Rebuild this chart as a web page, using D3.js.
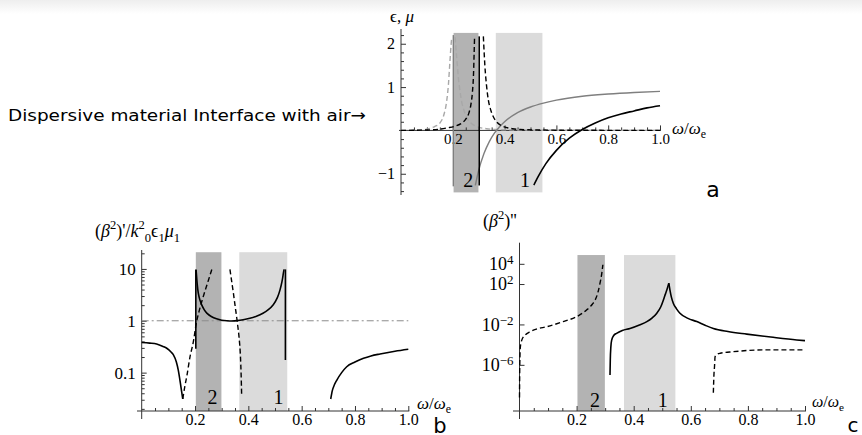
<!DOCTYPE html>
<html>
<head>
<meta charset="utf-8">
<script src="https://cdn.jsdelivr.net/npm/d3@7"></script>
<style>
  body { margin: 0; background: #fff; }
  svg { display: block; }
</style>
</head>
<body>
<script>
// ---- values ----
const omegaTicks = [0.2, 0.4, 0.6, 0.8, 1.0];
const omegaMinor = [0.05, 0.1, 0.15, 0.25, 0.3, 0.35, 0.45, 0.5, 0.55, 0.65, 0.7, 0.75, 0.85, 0.9, 0.95];
const bandDark = [0.203, 0.299];
const bandLight = [0.366, 0.546];
const bandNames = ['2', '1'];

// panel a: eps, mu (linear)
const aTicks = [-1, 1, 2];
const aMinor = [-1.4, -1.2, -0.8, -0.6, -0.4, -0.2, 0.2, 0.4, 0.6, 0.8, 1.2, 1.4, 1.6, 1.8, 2.2];
const aBlackSolid = [[0.513, -1.26], [0.53, -1.06], [0.56, -0.76], [0.6, -0.46], [0.65, -0.18], [0.7, 0.02],
  [0.75, 0.17], [0.8, 0.29], [0.85, 0.38], [0.9, 0.45], [0.95, 0.52], [1.0, 0.57]];
const aBlackPole = [[0.302, -1.27], [0.302, 2.17]];
const aGraySolid = [[0.287, -1.27], [0.3, -0.92], [0.32, -0.54], [0.34, -0.27], [0.36, -0.07], [0.38, 0.08],
  [0.4, 0.2], [0.45, 0.41], [0.5, 0.54], [0.55, 0.63], [0.6, 0.7], [0.7, 0.79], [0.8, 0.84], [0.9, 0.875], [1.0, 0.9]];
const aGrayPole = [[0.202, -1.29], [0.202, 2.2]];
const aGrayDashL = [[0, 0], [0.05, 0.003], [0.1, 0.03], [0.13, 0.09], [0.15, 0.17], [0.165, 0.35], [0.176, 0.66],
  [0.183, 1.05], [0.189, 1.6], [0.193, 1.95], [0.196, 2.15]];
const aGrayDashR = [[0.209, 2.15], [0.212, 1.9], [0.217, 1.55], [0.221, 1.25], [0.228, 0.9], [0.234, 0.67],
  [0.244, 0.45], [0.254, 0.3], [0.27, 0.17], [0.292, 0.09], [0.33, 0.04], [0.37, 0.02], [0.5, 0.006], [0.7, 0.002], [1.0, 0.001]];
const aBlackDashL = [[0, 0], [0.1, 0.01], [0.15, 0.03], [0.18, 0.06], [0.21, 0.1], [0.23, 0.15], [0.25, 0.26],
  [0.262, 0.4], [0.27, 0.6], [0.276, 0.9], [0.28, 1.3], [0.282, 1.7], [0.284, 2.15]];
const aBlackDashR = [[0.318, 2.17], [0.321, 1.8], [0.324, 1.48], [0.33, 1.05], [0.337, 0.71], [0.346, 0.48],
  [0.356, 0.32], [0.37, 0.19], [0.395, 0.09], [0.43, 0.04], [0.46, 0.02], [0.55, 0.008], [0.7, 0.003], [1.0, 0.001]];

// panel b: (beta^2)'/k0^2 eps1 mu1 (log)
const bTicks = [0.1, 1, 10];
const bMinor = [0.02, 0.03, 0.04, 0.05, 0.06, 0.07, 0.08, 0.09, 0.2, 0.3, 0.4, 0.5, 0.6, 0.7, 0.8, 0.9, 2, 3, 4, 5, 6, 7, 8, 9, 20];
const bSolidL = [[0, 0.38], [0.03, 0.37], [0.056, 0.356], [0.08, 0.32], [0.094, 0.295], [0.11, 0.25], [0.119, 0.22],
  [0.13, 0.16], [0.137, 0.113], [0.147, 0.054], [0.154, 0.031]];
const bSolidPoleL = [[0.203, 9.8], [0.203, 0.29]];
const bSolidMid = [[0.204, 9.6], [0.208, 5], [0.212, 3.36], [0.218, 2.5], [0.225, 2.0], [0.235, 1.6], [0.244, 1.39],
  [0.26, 1.2], [0.281, 1.08], [0.3, 1.02], [0.319, 1.0], [0.34, 0.99], [0.356, 1.0], [0.38, 1.04], [0.406, 1.11],
  [0.43, 1.22], [0.456, 1.39], [0.475, 1.62], [0.494, 2.0], [0.51, 2.8], [0.519, 3.9], [0.527, 5.8], [0.531, 8.1], [0.534, 9.8]];
const bSolidPoleR = [[0.539, 9.8], [0.539, 0.175]];
const bSolidR = [[0.709, 0.031], [0.715, 0.045], [0.722, 0.057], [0.732, 0.072], [0.75, 0.1], [0.769, 0.13],
  [0.8, 0.16], [0.832, 0.189], [0.86, 0.21], [0.894, 0.229], [0.95, 0.258], [1.0, 0.282]];
const bDashL = [[0.154, 0.031], [0.162, 0.055], [0.169, 0.084], [0.181, 0.2], [0.194, 0.4], [0.204, 0.85],
  [0.219, 1.8], [0.237, 3.7], [0.25, 6], [0.263, 9.8]];
const bDashR = [[0.331, 9.8], [0.337, 6], [0.344, 3.4], [0.35, 2.0], [0.356, 1.19], [0.361, 0.75], [0.365, 0.49],
  [0.371, 0.175], [0.373, 0.09], [0.375, 0.035]];
const bUnity = [[0, 1], [1, 1]];

// panel c: (beta^2)'' (log)
const cTicks = [1e-6, 1e-2, 1e2, 1e4];
const cDashL = [[0, 6e-10], [0.001, 1e-6], [0.003, 6e-5], [0.008, 2.8e-4], [0.02, 9e-4], [0.037, 1.9e-3],
  [0.06, 3.5e-3], [0.095, 5.9e-3], [0.153, 0.019], [0.2, 0.058], [0.235, 0.27], [0.255, 1], [0.265, 2.6],
  [0.275, 16], [0.282, 120], [0.288, 1000], [0.292, 8000]];
const cSolidUp = [[0.317, 1e-7], [0.318, 3e-6], [0.32, 6e-5], [0.323, 2.9e-4], [0.33, 8e-4], [0.34, 1.3e-3],
  [0.36, 2.5e-3], [0.387, 4e-3], [0.42, 9e-3], [0.446, 0.019], [0.465, 0.045], [0.481, 0.13], [0.495, 0.56],
  [0.504, 2.6], [0.511, 10], [0.516, 25], [0.523, 120]];
const cSolidDown = [[0.523, 120], [0.527, 25], [0.532, 5], [0.539, 1.2], [0.55, 0.35], [0.562, 0.13], [0.59, 0.04],
  [0.621, 0.019], [0.65, 8.3e-3], [0.679, 4e-3], [0.73, 2e-3], [0.796, 1.1e-3], [0.88, 5.6e-4], [0.971, 2.9e-4], [1.0, 2.5e-4]];
const cDashR = [[0.679, 1.7e-9], [0.681, 1e-7], [0.683, 6.5e-7], [0.685, 6.3e-6], [0.69, 1e-5], [0.703, 1.4e-5],
  [0.749, 2e-5], [0.854, 3e-5], [0.971, 3e-5], [1.0, 3e-5]];

// ---- drawing ----
const W = 862, H = 435;
const serif = '"Liberation Serif", "DejaVu Serif", serif';
const sans = '"DejaVu Sans", "Open Sans", sans-serif';
const axisColor = '#333';

const st = {
  solid: {stroke: '#000', w: 1.6},
  dashed: {stroke: '#000', w: 1.4, dash: '5,3'},
  gray: {stroke: '#7f7f7f', w: 1.4},
  grayDash: {stroke: '#a8a8a8', w: 1.4, dash: '5,3'},
  dashDot: {stroke: '#8c8c8c', w: 1, dash: '7,3,2,3'}
};

const svg = d3.select('body').append('svg').attr('width', W).attr('height', H);

// faint band along the top of the page
const defs = svg.append('defs');
const grad = defs.append('linearGradient').attr('id', 'topfade').attr('x1', 0).attr('x2', 0).attr('y1', 0).attr('y2', 1);
grad.append('stop').attr('offset', '0').attr('stop-color', '#eeeeee');
grad.append('stop').attr('offset', '1').attr('stop-color', '#ffffff');
svg.append('rect').attr('width', W).attr('height', 14).attr('fill', 'url(#topfade)');

function addLine(g, data, x, y, s, curve) {
  g.append('path')
    .datum(data)
    .attr('d', d3.line().x(d => x(d[0])).y(d => y(d[1])).curve(curve || d3.curveMonotoneX))
    .attr('fill', 'none')
    .attr('stroke', s.stroke)
    .attr('stroke-width', s.w)
    .attr('stroke-dasharray', s.dash || null);
}

// text made of pieces: [string, kind] with kind n | i | sup | sub
function richText(g, x, y, parts, size, anchor) {
  const t = g.append('text').attr('x', x).attr('y', y)
    .attr('font-family', serif).attr('font-size', size).attr('fill', '#000')
    .attr('text-anchor', anchor || 'start');
  let shift = 0;
  parts.forEach(([s, kind]) => {
    let target = 0;
    if (kind === 'sup') target = -0.42 * size;
    if (kind === 'sub') target = 0.25 * size;
    const sp = t.append('tspan').text(s).attr('dy', target - shift);
    shift = target;
    if (kind === 'i') sp.attr('font-style', 'italic');
    if (kind === 'sup' || kind === 'sub') sp.attr('font-size', size * 0.7);
  });
  return t;
}

function bands(g, x, yTop, yBot) {
  [bandDark, bandLight].forEach((b, i) => {
    g.append('rect')
      .attr('x', x(b[0])).attr('width', x(b[1]) - x(b[0]))
      .attr('y', yTop).attr('height', yBot - yTop)
      .attr('fill', i === 0 ? '#b3b3b3' : '#dbdbdb');
  });
}

function bandNumbers(g, x, xs, yc) {
  xs.forEach((v, i) => {
    g.append('text').attr('x', x(v)).attr('y', yc).attr('dy', '0.35em')
      .attr('text-anchor', 'middle').attr('font-family', serif).attr('font-size', 20)
      .text(bandNames[i]);
  });
}

function styleAxis(ax, size) {
  ax.select('.domain').remove();
  ax.attr('font-family', serif).attr('font-size', size);
  ax.selectAll('line').attr('stroke', axisColor);
  ax.selectAll('text').attr('fill', '#000');
}

function xAxis(g, x, yPos, x0, size) {
  const minor = g.append('g').attr('transform', `translate(0,${yPos})`)
    .call(d3.axisBottom(x).tickValues(omegaMinor).tickFormat('').tickSizeInner(-3).tickSizeOuter(0));
  styleAxis(minor, size);
  const major = g.append('g').attr('transform', `translate(0,${yPos})`)
    .call(d3.axisBottom(x).tickValues(omegaTicks).tickFormat(d3.format('.1f')).tickSizeInner(-5).tickSizeOuter(0).tickPadding(3));
  styleAxis(major, size);
  g.append('line').attr('x1', x0).attr('x2', x(1) + 1).attr('y1', yPos).attr('y2', yPos)
    .attr('stroke', axisColor).attr('stroke-width', 1);
}

function yAxis(g, y, xPos, ticks, minors, fmt, yTop, yBot, size) {
  if (minors) {
    const minor = g.append('g').attr('transform', `translate(${xPos},0)`)
      .call(d3.axisLeft(y).tickValues(minors).tickFormat('').tickSizeInner(-3).tickSizeOuter(0));
    styleAxis(minor, size);
  }
  const major = g.append('g').attr('transform', `translate(${xPos},0)`)
    .call(d3.axisLeft(y).tickValues(ticks).tickFormat(fmt).tickSizeInner(-5).tickSizeOuter(0).tickPadding(6));
  styleAxis(major, size);
  g.append('line').attr('x1', xPos).attr('x2', xPos).attr('y1', yTop).attr('y2', yBot)
    .attr('stroke', axisColor).attr('stroke-width', 1);
  return major;
}

const omegaLabel = [['ω', 'i'], ['/', 'n'], ['ω', 'i'], ['e', 'sub']];

// ---------- panel a ----------
{
  const g = svg.append('g');
  const x = d3.scaleLinear().domain([0, 1]).range([401, 660]);
  const y = d3.scaleLinear().domain([-1.49, 2.34]).range([195, 29]);
  bands(g, x, y(2.25), y(-1.43));
  xAxis(g, x, y(0), 399, 15);
  yAxis(g, y, x(0), aTicks, aMinor, d => d < 0 ? '−' + Math.abs(d) : String(d), y(2.34), y(-1.49), 16);
  addLine(g, aGrayDashL, x, y, st.grayDash);
  addLine(g, aGrayDashR, x, y, st.grayDash);
  addLine(g, aGrayPole, x, y, st.gray, d3.curveLinear);
  addLine(g, aGraySolid, x, y, st.gray);
  addLine(g, aBlackDashL, x, y, st.dashed);
  addLine(g, aBlackDashR, x, y, st.dashed);
  addLine(g, aBlackPole, x, y, st.solid, d3.curveLinear);
  addLine(g, aBlackSolid, x, y, st.solid);
  bandNumbers(g, x, [0.26, 0.479], 180);
  richText(g, 390, 22, [['ϵ, ', 'n'], ['μ', 'i']], 17);
  richText(g, 672, 134, omegaLabel, 17);
  g.append('text').attr('x', 713).attr('y', 197).attr('text-anchor', 'middle')
    .attr('font-family', sans).attr('font-size', 22).text('a');
}

// ---------- panel b ----------
{
  const g = svg.append('g');
  const x = d3.scaleLinear().domain([0, 1]).range([141.7, 408.3]);
  const y = d3.scaleLog().domain([Math.pow(10, -1.74), Math.pow(10, 1.365)]).range([411, 250]);
  bands(g, x, y(21), 411);
  xAxis(g, x, 411, 137, 16);
  yAxis(g, y, x(0), bTicks, bMinor, d => String(d), 250, 419, 17);
  addLine(g, bUnity, x, y, st.dashDot, d3.curveLinear);
  addLine(g, bDashL, x, y, st.dashed);
  addLine(g, bDashR, x, y, st.dashed);
  addLine(g, bSolidL, x, y, st.solid);
  addLine(g, bSolidPoleL, x, y, st.solid, d3.curveLinear);
  addLine(g, bSolidMid, x, y, st.solid, d3.curveBasis);
  addLine(g, bSolidPoleR, x, y, st.solid, d3.curveLinear);
  addLine(g, bSolidR, x, y, st.solid);
  bandNumbers(g, x, [0.266, 0.513], 397);
  richText(g, 95, 237, [['(', 'n'], ['β', 'i'], ['2', 'sup'], [")'/", 'n'], ['k', 'i'], ['2', 'sup'], ['0', 'sub'],
    ['ϵ', 'n'], ['1', 'sub'], ['μ', 'i'], ['1', 'sub']], 18);
  richText(g, 417, 409, omegaLabel, 17);
  g.append('text').attr('x', 440).attr('y', 433).attr('text-anchor', 'middle')
    .attr('font-family', sans).attr('font-size', 21).text('b');
}

// ---------- panel c ----------
{
  const g = svg.append('g');
  const x = d3.scaleLinear().domain([0, 1]).range([519.5, 805]);
  const y = d3.scaleLog().domain([Math.pow(10, -10.57), Math.pow(10, 6.09)]).range([411, 242.7]);
  bands(g, x, y(7.4e4), 411);
  xAxis(g, x, 411, 513, 16);
  const ax = yAxis(g, y, x(0), cTicks, null, d => String(d), 242.7, 419, 18);
  ax.selectAll('.tick text').each(function (d) {
    const t = d3.select(this);
    const e = Math.round(Math.log10(d));
    t.text('');
    t.append('tspan').text('10');
    t.append('tspan').attr('dy', '-0.45em').attr('font-size', '0.72em').text(e < 0 ? '−' + Math.abs(e) : String(e));
  });
  addLine(g, cDashL, x, y, st.dashed);
  addLine(g, cDashR, x, y, st.dashed);
  addLine(g, cSolidUp, x, y, st.solid);
  addLine(g, cSolidDown, x, y, st.solid);
  bandNumbers(g, x, [0.2645, 0.502], 400);
  richText(g, 483, 227, [['(', 'n'], ['β', 'i'], ['2', 'sup'], [")''", 'n']], 18);
  richText(g, 812, 407, omegaLabel, 16);
  g.append('text').attr('x', 853).attr('y', 432).attr('text-anchor', 'middle')
    .attr('font-family', sans).attr('font-size', 20).text('c');
}

// caption on the left
svg.append('text').attr('x', 8).attr('y', 121)
  .attr('font-family', sans).attr('font-size', 16).attr('textLength', 358).attr('lengthAdjust', 'spacingAndGlyphs')
  .text('Dispersive material Interface with air→');
</script>
</body>
</html>
